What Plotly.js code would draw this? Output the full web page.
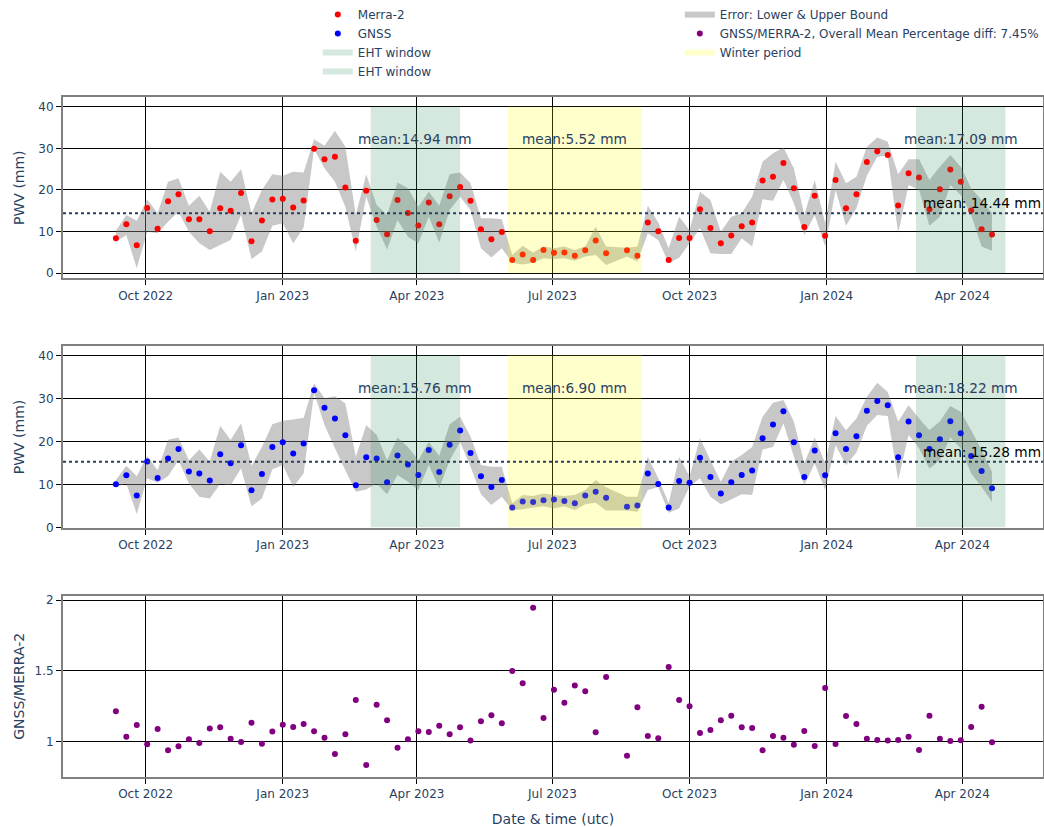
<!DOCTYPE html>
<html>
<head>
<meta charset="utf-8">
<script src="https://cdn.plot.ly/plotly-3.0.1.min.js"></script>
<style>html,body{margin:0;padding:0;background:#fff}#chart{width:1044px;height:827px}</style>
</head>
<body>
<div id="chart"></div>
<script>
// Weekly sample dates (week of 2023-08-13 missing)
const dates = [
 '2022-09-11','2022-09-18','2022-09-25','2022-10-02','2022-10-09','2022-10-16','2022-10-23','2022-10-30',
 '2022-11-06','2022-11-13','2022-11-20','2022-11-27','2022-12-04','2022-12-11','2022-12-18','2022-12-25',
 '2023-01-01','2023-01-08','2023-01-15','2023-01-22','2023-01-29','2023-02-05','2023-02-12','2023-02-19',
 '2023-02-26','2023-03-05','2023-03-12','2023-03-19','2023-03-26','2023-04-02','2023-04-09','2023-04-16',
 '2023-04-23','2023-04-30','2023-05-07','2023-05-14','2023-05-21','2023-05-28','2023-06-04','2023-06-11',
 '2023-06-18','2023-06-25','2023-07-02','2023-07-09','2023-07-16','2023-07-23','2023-07-30','2023-08-06',
 '2023-08-20','2023-08-27','2023-09-03','2023-09-10','2023-09-17','2023-09-24','2023-10-01','2023-10-08',
 '2023-10-15','2023-10-22','2023-10-29','2023-11-05','2023-11-12','2023-11-19','2023-11-26','2023-12-03',
 '2023-12-10','2023-12-17','2023-12-24','2023-12-31','2024-01-07','2024-01-14','2024-01-21','2024-01-28',
 '2024-02-04','2024-02-11','2024-02-18','2024-02-25','2024-03-03','2024-03-10','2024-03-17','2024-03-24',
 '2024-03-31','2024-04-07','2024-04-14','2024-04-21'
];

const merra = [
 8.4,11.8,6.7,15.7,10.7,17.3,19.0,13.0,13.0,10.1,
 15.6,15.0,19.3,7.7,12.7,17.7,17.9,15.8,17.5,29.9,
 27.4,28.0,20.6,7.8,19.8,12.8,9.4,17.6,14.5,11.5,
 17.0,11.8,18.5,20.7,17.4,10.6,8.2,9.9,3.2,4.5,
 3.2,5.6,4.9,5.0,4.2,5.5,7.9,4.8,5.5,4.2,
 12.2,10.1,3.2,8.5,8.5,15.4,10.9,7.2,9.1,11.3,
 12.2,22.3,23.2,26.5,20.4,11.1,18.6,9.0,22.4,15.6,
 19.0,26.7,29.3,28.4,16.3,24.0,23.0,15.4,20.2,24.9,
 22.0,15.1,10.6,9.3
];
const merraUpper = [
 10.2,14.0,12.6,17.8,14.4,22.0,22.8,16.2,18.6,14.8,
 24.4,22.0,25.0,14.4,20.0,23.8,23.4,24.4,24.2,32.2,
 30.6,34.2,30.4,14.0,23.8,16.4,14.0,21.8,20.4,16.0,
 19.6,16.2,23.8,24.2,21.6,13.2,13.2,13.0,4.4,6.6,
 5.0,6.4,6.0,6.4,5.6,6.4,11.2,6.4,6.1,6.4,
 16.2,12.2,6.0,13.6,10.4,19.6,17.6,10.0,13.6,14.4,
 18.4,26.8,28.8,30.2,25.2,14.0,22.4,12.0,26.8,21.6,
 23.2,30.4,32.6,31.6,23.8,27.4,27.4,22.4,25.6,28.4,
 25.6,20.4,17.6,14.4
];
const merraLower = [
 7.6,9.2,1.2,10.0,9.6,12.4,14.8,10.0,7.2,5.6,
 6.8,8.0,14.0,3.4,5.2,11.4,12.0,7.2,11.0,29.8,
 25.2,22.0,16.0,5.2,18.4,11.2,5.7,12.8,8.8,7.2,
 13.6,7.4,15.2,18.4,15.2,6.0,3.8,6.0,2.5,2.1,
 2.5,3.6,3.4,3.6,3.0,4.0,4.4,2.0,4.0,2.8,
 9.6,8.0,2.4,3.7,7.2,10.8,4.8,4.6,4.6,8.4,
 6.4,17.8,17.4,22.4,16.8,9.2,14.0,6.4,20.0,11.4,
 15.6,23.4,28.0,28.2,9.6,21.2,20.0,11.4,13.6,21.2,
 18.8,14.0,6.4,5.4
];

const gnss = [
 10.0,12.1,7.4,15.3,11.5,16.0,18.2,13.0,12.5,10.9,
 17.0,14.9,19.1,8.6,12.4,18.7,19.8,17.2,19.5,31.9,
 27.8,25.3,21.4,9.8,16.3,16.0,10.5,16.7,14.6,12.2,
 18.0,12.9,19.2,22.5,17.3,11.9,9.4,11.0,4.6,6.0,
 5.9,6.3,6.5,6.1,5.6,7.4,8.3,6.9,4.8,5.1,
 12.5,10.1,4.6,10.8,10.4,16.2,11.7,7.9,10.5,12.2,
 13.2,20.7,23.9,27.0,19.8,11.7,17.9,12.1,21.9,18.2,
 21.2,27.1,29.4,28.4,16.3,24.6,21.4,18.2,20.5,24.7,
 21.9,16.6,13.1,9.1
];
const gnssUpper = [
 11.0,14.3,11.9,16.6,13.3,20.4,20.9,15.6,18.1,15.3,
 23.6,20.3,24.2,14.3,18.7,24.0,24.8,25.1,25.5,33.5,
 30.0,30.5,28.8,16.4,23.8,21.5,15.6,20.9,18.7,15.6,
 19.9,16.6,24.0,25.7,21.1,14.5,14.1,14.1,5.6,7.5,
 7.3,7.9,7.5,7.3,7.5,8.7,11.0,9.3,7.1,7.1,
 16.4,11.4,5.6,16.4,11.8,20.7,15.6,10.6,15.3,16.8,
 18.7,25.7,29.0,29.6,24.6,14.9,20.9,14.9,25.9,22.6,
 25.3,30.4,33.6,31.5,24.6,28.4,25.3,22.6,24.6,28.2,
 26.9,22.6,18.0,12.9
];
const gnssLower = [
 9.3,10.2,3.1,11.4,10.4,11.9,15.6,10.2,7.1,6.7,
 10.1,9.8,13.7,4.9,6.7,13.5,14.5,9.4,12.5,31.3,
 23.8,18.4,13.3,8.3,8.8,10.2,7.7,12.2,10.6,8.7,
 14.5,9.1,15.6,19.9,14.1,7.7,5.2,7.1,4.0,4.2,
 4.6,4.9,4.4,4.9,4.0,5.4,5.7,3.9,3.9,3.6,
 8.7,9.4,3.4,4.4,9.5,11.4,7.1,5.4,6.5,7.7,
 7.5,18.1,18.7,24.2,16.4,9.8,14.9,8.7,19.1,14.5,
 17.4,23.6,26.1,25.9,11.0,21.5,18.4,13.7,15.6,20.9,
 18.4,12.5,9.4,5.9
];

const ratio = [
 1.213,1.033,1.116,0.979,1.087,0.936,0.965,1.014,0.988,1.090,
 1.099,1.019,0.995,1.132,0.983,1.069,1.118,1.102,1.123,1.071,
 1.026,0.910,1.050,1.293,0.832,1.260,1.149,0.955,1.014,1.071,
 1.066,1.111,1.050,1.099,1.005,1.142,1.184,1.128,1.499,1.411,
 1.948,1.165,1.366,1.274,1.395,1.355,1.064,1.456,0.898,1.241,
 1.038,1.021,1.527,1.293,1.248,1.059,1.080,1.149,1.182,1.099,
 1.095,0.936,1.038,1.026,0.976,1.073,0.967,1.378,0.981,1.180,
 1.123,1.019,1.009,1.005,1.009,1.033,0.939,1.182,1.019,1.002,
 1.007,1.102,1.246,0.993
];

// Periods: [start, end]
const ehtWindow1 = ['2023-03-01', '2023-04-30'];
const winterPeriod = ['2023-06-01', '2023-08-30'];
const ehtWindow2 = ['2024-03-01', '2024-04-30'];
const windowBottom = 0, windowTop = 40;

const meansMerra = ['mean:14.94 mm', 'mean:5.52 mm', 'mean:17.09 mm'];
const meansGnss = ['mean:15.76 mm', 'mean:6.90 mm', 'mean:18.22 mm'];
const overallMeanMerra = 14.44;
const overallMeanGnss = 15.28;
const meanLabelY = 32.3;
const ratioLegend = 'GNSS/MERRA-2, Overall Mean Percentage diff: 7.45%';

const GREY = 'rgba(128,128,128,0.43)';
const GREEN = 'rgba(46,139,87,0.2)';
const YELLOW = 'rgba(255,255,0,0.2)';
const FONT = 'Verdana, "DejaVu Sans", sans-serif';

function band(up, lo, xa, ya, show) {
  return {
    type: 'scatter', mode: 'none', x: dates.concat(dates.slice().reverse()),
    y: up.concat(lo.slice().reverse()), fill: 'toself', fillcolor: GREY,
    name: 'Error: Lower & Upper Bound', legendrank: 2,
    showlegend: show, xaxis: xa, yaxis: ya, hoverinfo: 'skip'
  };
}
function rect(period, color, name, rank, xa, ya, show) {
  return {
    type: 'scatter', mode: 'none',
    x: [period[0], period[0], period[1], period[1], period[0]],
    y: [windowBottom, windowTop, windowTop, windowBottom, windowBottom],
    fill: 'toself', fillcolor: color, name: name, legendrank: rank,
    showlegend: show, xaxis: xa, yaxis: ya, hoverinfo: 'skip'
  };
}
function mid(p) {
  const a = new Date(p[0]).getTime(), b = new Date(p[1]).getTime();
  return new Date((a + b) / 2).toISOString().slice(0, 10);
}

const traces = [
  band(merraUpper, merraLower, 'x', 'y', true),
  {type: 'scatter', mode: 'markers', x: dates, y: merra, name: 'Merra-2', legendrank: 1,
   marker: {color: 'red', size: 6}, xaxis: 'x', yaxis: 'y'},
  rect(ehtWindow1, GREEN, 'EHT window', 5, 'x', 'y', true),
  rect(winterPeriod, YELLOW, 'Winter period', 6, 'x', 'y', true),
  rect(ehtWindow2, GREEN, 'EHT window', 7, 'x', 'y', true),

  band(gnssUpper, gnssLower, 'x2', 'y2', false),
  {type: 'scatter', mode: 'markers', x: dates, y: gnss, name: 'GNSS', legendrank: 3,
   marker: {color: 'blue', size: 6}, xaxis: 'x2', yaxis: 'y2'},
  rect(ehtWindow1, GREEN, 'EHT window', 5, 'x2', 'y2', false),
  rect(winterPeriod, YELLOW, 'Winter period', 6, 'x2', 'y2', false),
  rect(ehtWindow2, GREEN, 'EHT window', 7, 'x2', 'y2', false),

  {type: 'scatter', mode: 'markers', x: dates, y: ratio, name: ratioLegend, legendrank: 4,
   marker: {color: 'purple', size: 6}, xaxis: 'x3', yaxis: 'y3'}
];

const xRange = ['2022-08-06 12:00', '2024-05-25 05:00'];
function xax(anchor, title) {
  const a = {
    type: 'date', range: xRange, anchor: anchor, domain: [0, 1],
    tickformat: '%b %Y', dtick: 'M3', tick0: '2022-10-01',
    showgrid: true, gridcolor: 'black', gridwidth: 1,
    showline: true, mirror: true, linecolor: 'grey', linewidth: 2,
    ticks: 'outside', ticklen: 5, tickcolor: 'black', zeroline: false,
    tickfont: {size: 12}, automargin: false
  };
  if (title) a.title = {text: title, font: {size: 14}};
  return a;
}
function yax(anchor, domain, range, dtick, title) {
  return {
    anchor: anchor, domain: domain, range: range, dtick: dtick, tick0: 0,
    showgrid: true, gridcolor: 'black', gridwidth: 1,
    showline: true, mirror: true, linecolor: 'grey', linewidth: 2,
    ticks: 'outside', ticklen: 5, tickcolor: 'black', zeroline: false,
    tickfont: {size: 12}, automargin: false,
    title: {text: title, font: {size: 14}}
  };
}

const annotations = [];
const periods = [ehtWindow1, winterPeriod, ehtWindow2];
periods.forEach((p, i) => {
  annotations.push({x: mid(p), y: meanLabelY, xref: 'x', yref: 'y', text: meansMerra[i],
    showarrow: false, font: {size: 13.7, color: '#2a3f5f'}});
  annotations.push({x: mid(p), y: meanLabelY, xref: 'x2', yref: 'y2', text: meansGnss[i],
    showarrow: false, font: {size: 13.7, color: '#2a3f5f'}});
});
annotations.push({x: 1, xref: 'x domain', y: overallMeanMerra, yref: 'y', xanchor: 'right', yanchor: 'bottom',
  text: 'mean: ' + overallMeanMerra.toFixed(2) + ' mm', showarrow: false, font: {size: 13.7, color: 'black'}});
annotations.push({x: 1, xref: 'x2 domain', y: overallMeanGnss, yref: 'y2', xanchor: 'right', yanchor: 'bottom',
  text: 'mean: ' + overallMeanGnss.toFixed(2) + ' mm', showarrow: false, font: {size: 13.7, color: 'black'}});

const shapes = [
  {type: 'line', xref: 'x domain', x0: 0, x1: 1, yref: 'y', y0: overallMeanMerra, y1: overallMeanMerra,
   line: {color: '#2a3f5f', width: 2, dash: 'dot'}},
  {type: 'line', xref: 'x2 domain', x0: 0, x1: 1, yref: 'y2', y0: overallMeanGnss, y1: overallMeanGnss,
   line: {color: '#2a3f5f', width: 2, dash: 'dot'}}
];

const layout = {
  width: 1044, height: 827,
  margin: {l: 63, r: 1, t: 97, b: 50, autoexpand: false},
  paper_bgcolor: 'white', plot_bgcolor: 'white',
  font: {family: FONT, size: 12, color: '#2a3f5f'},
  showlegend: true,
  legend: {orientation: 'h', traceorder: 'normal', x: 0.26, xanchor: 'left', y: 1.016, yanchor: 'bottom',
           entrywidth: 317, entrywidthmode: 'pixels',
           font: {size: 12, color: '#2a3f5f'}, bgcolor: 'rgba(0,0,0,0)'},
  xaxis: xax('y'),
  yaxis: yax('x', [0.7333, 1], [-1.22, 42.33], 10, 'PWV (mm)'),
  xaxis2: xax('y2'),
  yaxis2: yax('x2', [0.3667, 0.6333], [-0.07, 42.09], 10, 'PWV (mm)'),
  xaxis3: xax('y3', 'Date & time (utc)'),
  yaxis3: yax('x3', [0, 0.2667], [0.747, 2.033], 0.5, 'GNSS/MERRA-2'),
  annotations: annotations,
  shapes: shapes
};

Plotly.newPlot('chart', traces, layout, {displayModeBar: false, responsive: false});
</script>
</body>
</html>
